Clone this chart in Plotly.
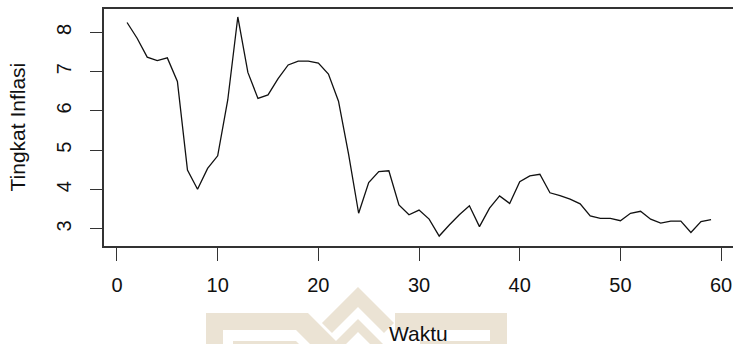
import plotly.graph_objects as go

# Monthly inflation series (time index and inflation rate, %)
waktu = list(range(1, 60))
inflasi = [
    8.25, 7.85, 7.37, 7.28, 7.35, 6.75, 4.50, 4.01, 4.54, 4.86,
    6.28, 8.39, 6.98, 6.32, 6.41, 6.82, 7.17, 7.27, 7.27, 7.22,
    6.94, 6.25, 4.90, 3.40, 4.18, 4.46, 4.48, 3.61, 3.36, 3.48,
    3.25, 2.82, 3.10, 3.36, 3.59, 3.06, 3.53, 3.84, 3.65, 4.20,
    4.35, 4.39, 3.92, 3.85, 3.76, 3.64, 3.33, 3.27, 3.27, 3.21,
    3.40, 3.45, 3.25, 3.15, 3.20, 3.20, 2.91, 3.19, 3.24,
]

x_ticks = [0, 10, 20, 30, 40, 50, 60]
y_ticks = [3, 4, 5, 6, 7, 8]

W, H = 733, 344
ML, MR, MT, MB = 104, 0, 9, 98
PW, PH = W - ML - MR, H - MT - MB
FONT = "Arial, Liberation Sans, sans-serif"
INK = "#111111"
FRAME = "#333333"
LOGO = "#ebe3d4"


def to_paper(pts):
    """Pixel coordinates -> paper coordinates for a closed SVG path."""
    segs = []
    for i, (xp, yp) in enumerate(pts):
        xx = (xp - ML) / PW
        yy = (H - MB - yp) / PH
        segs.append(("M" if i == 0 else "L") + f"{xx:.5f},{yy:.5f}")
    return " ".join(segs) + " Z"


# faint emblem behind the x-axis title
emblem = [
    [(206, 313), (308, 313), (339, 344), (310, 344), (296, 330),
     (223, 330), (223, 344), (206, 344)],
    [(395, 313), (507, 313), (507, 344), (490, 344), (490, 330), (395, 330)],
    [(358, 287), (394, 323), (384, 333), (358, 307), (332, 333), (322, 323)],
    [(358, 319), (383, 344), (370, 344), (358, 332), (346, 344), (333, 344)],
    [(233, 341), (296, 341), (299, 344), (233, 344)],
    [(420, 341), (490, 341), (490, 344), (420, 344)],
]
shapes = [
    dict(type="path", xref="paper", yref="paper", path=to_paper(p),
         fillcolor=LOGO, line=dict(width=0), layer="below")
    for p in emblem
]

fig = go.Figure()
fig.add_trace(go.Scatter(
    x=waktu, y=inflasi, mode="lines",
    line=dict(color=INK, width=1.3),
    hoverinfo="skip", showlegend=False,
))

fig.update_layout(
    width=W, height=H,
    margin=dict(l=ML, r=MR, t=MT, b=MB, pad=0),
    paper_bgcolor="white", plot_bgcolor="white",
    font=dict(family=FONT, color=INK, size=20),
    shapes=shapes,
    annotations=[
        dict(text="Waktu", xref="paper", yref="paper",
             x=0.5, y=(H - MB - 333) / PH, xanchor="center", yanchor="middle",
             showarrow=False, font=dict(size=21, family=FONT, color=INK)),
        dict(text="Tingkat Inflasi", xref="paper", yref="paper",
             x=(17 - ML) / PW, y=0.5, xanchor="center", yanchor="middle",
             textangle=-90, showarrow=False,
             font=dict(size=21, family=FONT, color=INK)),
    ],
)

fig.update_xaxes(
    range=[-1.29, 61.18], tickvals=x_ticks, ticktext=[str(v) for v in x_ticks],
    showgrid=False, zeroline=False,
    showline=True, mirror=True, linecolor=FRAME, linewidth=1.5,
    ticks="outside", ticklen=13, tickwidth=1.3, tickcolor=FRAME,
    ticklabelstandoff=7, tickfont=dict(size=20, family=FONT, color=INK),
)
fig.update_yaxes(
    range=[2.567, 8.593], tickvals=y_ticks, ticktext=[str(v) for v in y_ticks],
    showgrid=False, zeroline=False,
    showline=True, mirror=False, linecolor=FRAME, linewidth=1.5,
    ticks="outside", ticklen=12, tickwidth=1.3, tickcolor=FRAME,
    tickangle=-90, ticklabelstandoff=11,
    tickfont=dict(size=20, family=FONT, color=INK),
)

fig.write_html("out.html")
